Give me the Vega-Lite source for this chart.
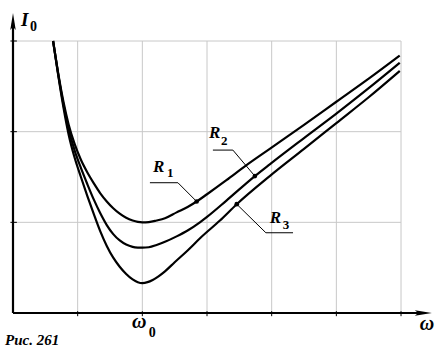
{
  "$schema": "https://vega.github.io/schema/vega-lite/v6.json",
  "width": 417,
  "height": 300,
  "autosize": {"type": "none"},
  "padding": {"left": 13, "top": 13, "right": 14, "bottom": 42},
  "background": "white",
  "config": {"view": {"stroke": null}},
  "datasets": {
    "curves": [
      {"r": "R1", "w": 0.62, "i": 3.0}, {"r": "R1", "w": 0.70, "i": 2.64}, {"r": "R1", "w": 0.78, "i": 2.33},
      {"r": "R1", "w": 0.86, "i": 2.08}, {"r": "R1", "w": 0.95, "i": 1.87}, {"r": "R1", "w": 1.05, "i": 1.69},
      {"r": "R1", "w": 1.15, "i": 1.55}, {"r": "R1", "w": 1.25, "i": 1.43}, {"r": "R1", "w": 1.35, "i": 1.32},
      {"r": "R1", "w": 1.45, "i": 1.23}, {"r": "R1", "w": 1.55, "i": 1.155}, {"r": "R1", "w": 1.65, "i": 1.095},
      {"r": "R1", "w": 1.75, "i": 1.05}, {"r": "R1", "w": 1.85, "i": 1.02}, {"r": "R1", "w": 1.93, "i": 1.005},
      {"r": "R1", "w": 2.0, "i": 1.0}, {"r": "R1", "w": 2.1, "i": 1.003}, {"r": "R1", "w": 2.22, "i": 1.02},
      {"r": "R1", "w": 2.35, "i": 1.045}, {"r": "R1", "w": 2.53, "i": 1.11}, {"r": "R1", "w": 2.7, "i": 1.17},
      {"r": "R1", "w": 2.84, "i": 1.23}, {"r": "R1", "w": 3.0, "i": 1.31}, {"r": "R1", "w": 3.3, "i": 1.465},
      {"r": "R1", "w": 3.6, "i": 1.625}, {"r": "R1", "w": 3.97, "i": 1.81}, {"r": "R1", "w": 4.5, "i": 2.075},
      {"r": "R1", "w": 5.0, "i": 2.33}, {"r": "R1", "w": 5.5, "i": 2.585}, {"r": "R1", "w": 5.98, "i": 2.84},
      {"r": "R2", "w": 0.62, "i": 3.0}, {"r": "R2", "w": 0.70, "i": 2.63}, {"r": "R2", "w": 0.78, "i": 2.3},
      {"r": "R2", "w": 0.86, "i": 2.03}, {"r": "R2", "w": 0.95, "i": 1.8}, {"r": "R2", "w": 1.05, "i": 1.6},
      {"r": "R2", "w": 1.15, "i": 1.42}, {"r": "R2", "w": 1.25, "i": 1.25}, {"r": "R2", "w": 1.35, "i": 1.1},
      {"r": "R2", "w": 1.45, "i": 0.97}, {"r": "R2", "w": 1.55, "i": 0.87}, {"r": "R2", "w": 1.65, "i": 0.8},
      {"r": "R2", "w": 1.75, "i": 0.755}, {"r": "R2", "w": 1.85, "i": 0.73}, {"r": "R2", "w": 1.93, "i": 0.722},
      {"r": "R2", "w": 2.0, "i": 0.72}, {"r": "R2", "w": 2.1, "i": 0.725}, {"r": "R2", "w": 2.22, "i": 0.75},
      {"r": "R2", "w": 2.35, "i": 0.785}, {"r": "R2", "w": 2.53, "i": 0.845}, {"r": "R2", "w": 2.7, "i": 0.91},
      {"r": "R2", "w": 2.89, "i": 1.0}, {"r": "R2", "w": 3.0, "i": 1.06}, {"r": "R2", "w": 3.3, "i": 1.24},
      {"r": "R2", "w": 3.74, "i": 1.51}, {"r": "R2", "w": 3.97, "i": 1.64}, {"r": "R2", "w": 4.5, "i": 1.93},
      {"r": "R2", "w": 5.0, "i": 2.2}, {"r": "R2", "w": 5.5, "i": 2.48}, {"r": "R2", "w": 5.98, "i": 2.76},
      {"r": "R3", "w": 0.62, "i": 3.0}, {"r": "R3", "w": 0.70, "i": 2.62}, {"r": "R3", "w": 0.78, "i": 2.27},
      {"r": "R3", "w": 0.86, "i": 1.97}, {"r": "R3", "w": 0.95, "i": 1.72}, {"r": "R3", "w": 1.05, "i": 1.5},
      {"r": "R3", "w": 1.15, "i": 1.29}, {"r": "R3", "w": 1.25, "i": 1.09}, {"r": "R3", "w": 1.35, "i": 0.9},
      {"r": "R3", "w": 1.45, "i": 0.74}, {"r": "R3", "w": 1.55, "i": 0.61}, {"r": "R3", "w": 1.65, "i": 0.51},
      {"r": "R3", "w": 1.75, "i": 0.43}, {"r": "R3", "w": 1.85, "i": 0.37}, {"r": "R3", "w": 1.93, "i": 0.34},
      {"r": "R3", "w": 2.0, "i": 0.33}, {"r": "R3", "w": 2.08, "i": 0.34}, {"r": "R3", "w": 2.16, "i": 0.365},
      {"r": "R3", "w": 2.25, "i": 0.405}, {"r": "R3", "w": 2.35, "i": 0.46}, {"r": "R3", "w": 2.5, "i": 0.56},
      {"r": "R3", "w": 2.7, "i": 0.69}, {"r": "R3", "w": 2.9, "i": 0.83}, {"r": "R3", "w": 3.2, "i": 1.02},
      {"r": "R3", "w": 3.46, "i": 1.2}, {"r": "R3", "w": 3.97, "i": 1.51}, {"r": "R3", "w": 4.5, "i": 1.81},
      {"r": "R3", "w": 5.0, "i": 2.095}, {"r": "R3", "w": 5.5, "i": 2.38}, {"r": "R3", "w": 5.98, "i": 2.67}
    ],
    "dots": [
      {"r": "R1", "w": 2.84, "i": 1.23},
      {"r": "R2", "w": 3.74, "i": 1.51},
      {"r": "R3", "w": 3.46, "i": 1.2}
    ],
    "leaders": [
      {"r": "R1", "a": 2.117, "b": 1.437, "a2": 2.55, "b2": 1.437},
      {"r": "R1", "a": 2.55, "b": 1.437, "a2": 2.84, "b2": 1.23},
      {"r": "R2", "a": 3.091, "b": 1.797, "a2": 3.40, "b2": 1.797},
      {"r": "R2", "a": 3.40, "b": 1.797, "a2": 3.74, "b2": 1.51},
      {"r": "R3", "a": 3.91, "b": 0.885, "a2": 4.33, "b2": 0.885},
      {"r": "R3", "a": 3.91, "b": 0.885, "a2": 3.46, "b2": 1.2}
    ],
    "rlabels": [
      {"t": "R", "x": 2.164, "y": 1.555},
      {"t": "R", "x": 3.029, "y": 1.929},
      {"t": "R", "x": 3.972, "y": 0.992}
    ],
    "rsubs": [
      {"t": "1", "x": 2.38, "y": 1.499},
      {"t": "2", "x": 3.215, "y": 1.852},
      {"t": "3", "x": 4.173, "y": 0.926}
    ],
    "omegas": [
      {"t": "ω", "x": 1.839, "y": -0.165},
      {"t": "ω", "x": 6.29, "y": -0.187}
    ],
    "subs0": [
      {"t": "0", "x": 2.1, "y": -0.265},
      {"t": "0", "x": 0.263, "y": 3.109}
    ]
  },
  "layer": [
    {
      "data": {"values": [{"g": 1}, {"g": 2}, {"g": 3}, {"g": 4}, {"g": 5}, {"g": 6}]},
      "mark": {"type": "rule", "color": "#c8c8c8", "strokeWidth": 1},
      "encoding": {
        "x": {"field": "g", "type": "quantitative", "scale": {"domain": [0, 6.448], "nice": false, "zero": false}, "axis": null},
        "y": {"datum": 0, "type": "quantitative", "scale": {"domain": [0, 3.309], "nice": false, "zero": false}, "axis": null},
        "y2": {"datum": 3}
      }
    },
    {
      "data": {"values": [{"g": 1}, {"g": 2}, {"g": 3}]},
      "mark": {"type": "rule", "color": "#c8c8c8", "strokeWidth": 1},
      "encoding": {
        "y": {"field": "g", "type": "quantitative"},
        "x": {"datum": 0, "type": "quantitative"},
        "x2": {"datum": 6}
      }
    },
    {
      "data": {"values": [{"g": 1}, {"g": 2}, {"g": 3}, {"g": 4}, {"g": 5}, {"g": 6}]},
      "mark": {"type": "rule", "color": "black", "strokeWidth": 1},
      "encoding": {
        "x": {"field": "g", "type": "quantitative"},
        "y": {"datum": -0.035, "type": "quantitative"},
        "y2": {"datum": 0.02}
      }
    },
    {
      "data": {"values": [{"g": 1}, {"g": 2}, {"g": 3}]},
      "mark": {"type": "rule", "color": "black", "strokeWidth": 1},
      "encoding": {
        "y": {"field": "g", "type": "quantitative"},
        "x": {"datum": -0.04, "type": "quantitative"},
        "x2": {"datum": 0.06}
      }
    },
    {
      "data": {"values": [{}]},
      "mark": {"type": "rule", "color": "black", "strokeWidth": 2.2},
      "encoding": {
        "x": {"datum": 0, "type": "quantitative"},
        "x2": {"datum": 6.3},
        "y": {"datum": 0, "type": "quantitative"}
      }
    },
    {
      "data": {"values": [{}]},
      "mark": {"type": "rule", "color": "black", "strokeWidth": 2.2},
      "encoding": {
        "x": {"datum": 0, "type": "quantitative"},
        "y": {"datum": 0, "type": "quantitative"},
        "y2": {"datum": 3.2}
      }
    },
    {
      "data": {"values": [{}]},
      "mark": {"type": "point", "shape": "M1,0L-1,-0.32L-0.6,0L-1,0.32Z", "filled": true, "color": "black", "size": 289, "opacity": 1},
      "encoding": {
        "x": {"datum": 6.345, "type": "quantitative"},
        "y": {"datum": 0, "type": "quantitative"}
      }
    },
    {
      "data": {"values": [{}]},
      "mark": {"type": "point", "shape": "M0,-1L-0.32,1L0,0.6L0.32,1Z", "filled": true, "color": "black", "size": 289, "opacity": 1},
      "encoding": {
        "x": {"datum": 0, "type": "quantitative"},
        "y": {"datum": 3.214, "type": "quantitative"}
      }
    },
    {
      "data": {"name": "curves"},
      "mark": {"type": "line", "color": "black", "strokeWidth": 2.2, "interpolate": "monotone"},
      "encoding": {
        "x": {"field": "w", "type": "quantitative"},
        "y": {"field": "i", "type": "quantitative"},
        "detail": {"field": "r"}
      }
    },
    {
      "data": {"name": "leaders"},
      "mark": {"type": "rule", "color": "black", "strokeWidth": 1},
      "encoding": {
        "x": {"field": "a", "type": "quantitative"},
        "y": {"field": "b", "type": "quantitative"},
        "x2": {"field": "a2"},
        "y2": {"field": "b2"}
      }
    },
    {
      "data": {"name": "dots"},
      "mark": {"type": "point", "filled": true, "color": "black", "size": 22, "opacity": 1},
      "encoding": {
        "x": {"field": "w", "type": "quantitative"},
        "y": {"field": "i", "type": "quantitative"}
      }
    },
    {
      "data": {"name": "rlabels"},
      "mark": {"type": "text", "font": "Liberation Serif", "fontStyle": "italic", "fontWeight": "bold", "fontSize": 17, "align": "left", "baseline": "alphabetic", "color": "black"},
      "encoding": {
        "x": {"field": "x", "type": "quantitative"},
        "y": {"field": "y", "type": "quantitative"},
        "text": {"field": "t"}
      }
    },
    {
      "data": {"name": "rsubs"},
      "mark": {"type": "text", "font": "Liberation Serif", "fontWeight": "bold", "fontSize": 13, "align": "left", "baseline": "alphabetic", "color": "black"},
      "encoding": {
        "x": {"field": "x", "type": "quantitative"},
        "y": {"field": "y", "type": "quantitative"},
        "text": {"field": "t"}
      }
    },
    {
      "data": {"name": "omegas"},
      "mark": {"type": "text", "font": "Liberation Serif", "fontStyle": "italic", "fontWeight": "bold", "fontSize": 20, "align": "left", "baseline": "alphabetic", "color": "black"},
      "encoding": {
        "x": {"field": "x", "type": "quantitative"},
        "y": {"field": "y", "type": "quantitative"},
        "text": {"field": "t"}
      }
    },
    {
      "data": {"name": "subs0"},
      "mark": {"type": "text", "font": "Liberation Serif", "fontWeight": "bold", "fontSize": 14, "align": "left", "baseline": "alphabetic", "color": "black"},
      "encoding": {
        "x": {"field": "x", "type": "quantitative"},
        "y": {"field": "y", "type": "quantitative"},
        "text": {"field": "t"}
      }
    },
    {
      "data": {"values": [{"t": "I", "x": 0.124, "y": 3.164}]},
      "mark": {"type": "text", "font": "Liberation Serif", "fontStyle": "italic", "fontWeight": "bold", "fontSize": 19, "align": "left", "baseline": "alphabetic", "color": "black"},
      "encoding": {
        "x": {"field": "x", "type": "quantitative"},
        "y": {"field": "y", "type": "quantitative"},
        "text": {"field": "t"}
      }
    },
    {
      "data": {"values": [{"t": "Рис. 261", "x": -0.124, "y": -0.353}]},
      "mark": {"type": "text", "font": "Liberation Serif", "fontStyle": "italic", "fontWeight": "bold", "fontSize": 15, "align": "left", "baseline": "alphabetic", "color": "black"},
      "encoding": {
        "x": {"field": "x", "type": "quantitative"},
        "y": {"field": "y", "type": "quantitative"},
        "text": {"field": "t"}
      }
    }
  ]
}
